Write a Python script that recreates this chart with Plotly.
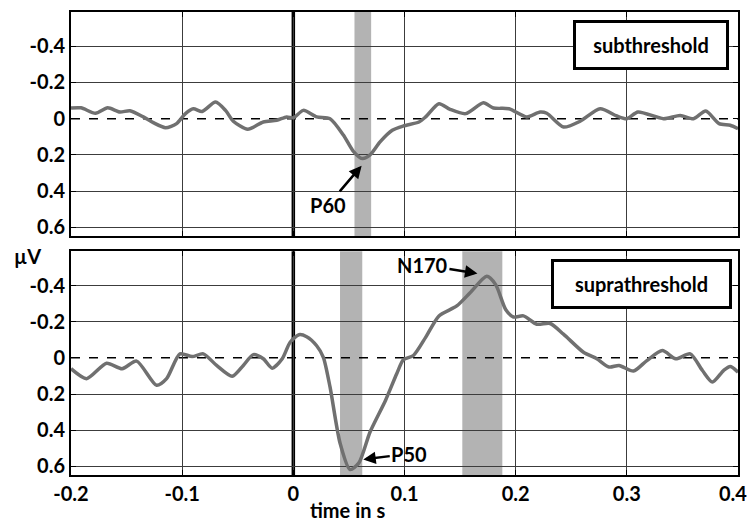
import plotly.graph_objects as go

# ---- data ----
time_sub = [-0.2, -0.191, -0.178, -0.167, -0.156, -0.147, -0.135, -0.126, -0.115, -0.105,
            -0.097, -0.09, -0.082, -0.07, -0.061, -0.054, -0.041, -0.027, -0.015, -0.006,
            0.0, 0.009, 0.021, 0.033, 0.045, 0.054, 0.062, 0.069, 0.078, 0.089, 0.099,
            0.113, 0.119, 0.131, 0.141, 0.155, 0.171, 0.18, 0.194, 0.21, 0.222, 0.228,
            0.243, 0.258, 0.276, 0.291, 0.3, 0.31, 0.333, 0.348, 0.36, 0.371, 0.383, 0.393, 0.4]
amp_sub = [-0.059, -0.06, -0.03, -0.06, -0.037, -0.044, -0.01, 0.022, 0.05, 0.027,
           -0.028, -0.055, -0.04, -0.092, -0.046, 0.014, 0.058, 0.018, 0.009, -0.01,
           -0.005, -0.046, -0.01, 0.0, 0.09, 0.18, 0.22, 0.2, 0.128, 0.064, 0.04,
           0.018, -0.01, -0.083, -0.052, -0.028, -0.088, -0.059, -0.055, -0.01, -0.037, -0.03,
           0.046, 0.014, -0.055, -0.015, 0.0, -0.037, 0.0, -0.018, 0.0, -0.042, 0.027, 0.036, 0.055]

time_supra = [-0.2, -0.186, -0.168, -0.154, -0.141, -0.123, -0.114, -0.102, -0.091, -0.081,
              -0.069, -0.055, -0.045, -0.036, -0.027, -0.019, -0.01, -0.003, 0.005, 0.012,
              0.021, 0.027, 0.033, 0.042, 0.051, 0.059, 0.069, 0.083, 0.093, 0.099, 0.108,
              0.119, 0.131, 0.147, 0.159, 0.174, 0.182, 0.191, 0.198, 0.207, 0.219, 0.231,
              0.243, 0.261, 0.273, 0.284, 0.293, 0.306, 0.318, 0.332, 0.344, 0.357, 0.368,
              0.377, 0.387, 0.393, 0.4]
amp_supra = [0.06, 0.115, 0.03, 0.06, 0.018, 0.152, 0.115, -0.022, -0.007, -0.022,
             0.042, 0.102, 0.042, -0.018, 0.005, 0.057, 0.005, -0.085, -0.128, -0.117,
             -0.067, -0.003, 0.161, 0.471, 0.618, 0.581, 0.41, 0.234, 0.088, 0.011, -0.013,
             -0.113, -0.232, -0.287, -0.36, -0.451, -0.405, -0.268, -0.226, -0.232, -0.186, -0.19,
             -0.131, -0.031, 0.005, 0.051, 0.042, 0.073, 0.015, -0.04, 0.005, -0.022, 0.07,
             0.134, 0.07, 0.048, 0.079]

win_sub = [(0.055, 0.070)]
win_supra = [(0.042, 0.062), (0.152, 0.188)]

x_ticks = [-0.2, -0.1, 0, 0.1, 0.2, 0.3, 0.4]
x_ticktext = ["-0.2", "-0.1", "0", "0.1", "0.2", "0.3", ""]   # last label drawn as annotation (kept inside page)
x_last_label = "0.4"
y_ticks = [-0.4, -0.2, 0, 0.2, 0.4, 0.6]
y_ticktext = ["-0.4", "-0.2", "0", "0.2", "0.4", "0.6"]
y_grid = [-0.4, -0.2, 0.2, 0.4, 0.6]   # zero is drawn dashed instead

FONT = "Lato"
LINE_C = "#707070"
SHADE_C = "#b3b3b3"
Y_RANGE = [0.648, -0.589]

fig = go.Figure()
fig.add_trace(go.Scatter(x=time_sub, y=amp_sub, mode="lines", xaxis="x", yaxis="y3",
                         line=dict(color=LINE_C, width=3.5, shape="spline", smoothing=0.7),
                         showlegend=False, hoverinfo="skip"))
fig.add_trace(go.Scatter(x=time_supra, y=amp_supra, mode="lines", xaxis="x2", yaxis="y4",
                         line=dict(color=LINE_C, width=3.5, shape="spline", smoothing=0.7),
                         showlegend=False, hoverinfo="skip"))

shapes = []
for (xr, yr, wins) in [("x", "y", win_sub), ("x2", "y2", win_supra)]:
    for a, b in wins:
        shapes.append(dict(type="rect", xref=xr, yref=f"{yr} domain", x0=a, x1=b, y0=0, y1=1,
                           fillcolor=SHADE_C, line=dict(width=0), layer="below"))
    shapes.append(dict(type="line", xref=f"{xr} domain", yref=yr, x0=0, x1=1, y0=0, y1=0,
                       line=dict(color="black", width=1.5, dash="dash"), layer="below"))
    shapes.append(dict(type="line", xref=xr, yref=f"{yr} domain", x0=0, x1=0, y0=0, y1=1,
                       line=dict(color="black", width=3.5), layer="below"))

tickfont = dict(family=FONT, size=20, color="black", weight="bold")
frame = dict(showline=True, linecolor="black", linewidth=2, mirror="ticks",
             ticks="inside", ticklen=5, tickcolor="black", zeroline=False, tickfont=tickfont)
gridax = dict(showline=False, ticks="", showticklabels=False, showgrid=True,
              gridcolor="#3c3c3c", gridwidth=1, zeroline=False, tickvals=y_grid, range=Y_RANGE)

fig.update_layout(
    width=753, height=523,
    margin=dict(l=71, r=15, t=10, b=48),
    paper_bgcolor="white", plot_bgcolor="white",
    font=dict(family=FONT, color="black"),
    xaxis=dict(domain=[0, 1], anchor="y", range=[-0.2, 0.4], tickvals=x_ticks,
               ticktext=x_ticktext, showticklabels=False, showgrid=True,
               gridcolor="#3c3c3c", gridwidth=1, **frame),
    yaxis=dict(domain=[0.516, 1], anchor="x", range=Y_RANGE, tickvals=y_ticks,
               ticktext=y_ticktext, showgrid=False, **frame),
    yaxis3=dict(overlaying="y", anchor="x", side="left", **gridax),
    xaxis2=dict(domain=[0, 1], anchor="y2", range=[-0.2, 0.4], tickvals=x_ticks,
                ticktext=x_ticktext, showgrid=True, gridcolor="#3c3c3c", gridwidth=1, **frame),
    yaxis2=dict(domain=[0, 0.483], anchor="x2", range=Y_RANGE, tickvals=y_ticks,
                ticktext=y_ticktext, showgrid=False, **frame),
    yaxis4=dict(overlaying="y2", anchor="x2", side="left", **gridax),
    shapes=shapes,
)

labfont = dict(family=FONT, size=20, color="black", weight="bold")
arrow = dict(showarrow=True, arrowhead=2, arrowsize=1, arrowwidth=2.5, arrowcolor="black",
             standoff=1, font=labfont)
ann = [
    dict(text="subthreshold", xref="x", yref="y", x=0.3213, y=-0.406, showarrow=False,
         xanchor="center", yanchor="middle",
         bordercolor="black", borderwidth=3, bgcolor="white", width=148, height=42,
         borderpad=1, font=labfont),
    dict(text="suprathreshold", xref="x2", yref="y2", x=0.313, y=-0.407, showarrow=False,
         xanchor="center", yanchor="middle",
         bordercolor="black", borderwidth=3, bgcolor="white", width=173, height=42,
         borderpad=1, font=labfont),
    dict(text="P60", xref="x", yref="y", x=0.062, y=0.255, ax=-34, ay=40, **arrow),
    dict(text="P50", xref="x2", yref="y2", x=0.062, y=0.563, ax=47, ay=-6, **arrow),
    dict(text="N170", xref="x2", yref="y2", x=0.1665, y=-0.466, ax=-56, ay=-9, **arrow),
    dict(text="µV", xref="paper", yref="paper", x=-0.0645, y=0.4726, xanchor="center",
         yanchor="middle", showarrow=False, font=labfont),
    dict(text="time in s", xref="paper", yref="paper", x=0.4145, y=-0.0765, xanchor="center",
         yanchor="middle", showarrow=False, font=labfont),
    dict(text=x_last_label, xref="paper", yref="paper", x=1.016, xanchor="right",
         y=-0.0387, yanchor="middle", showarrow=False, font=labfont),
]
fig.update_layout(annotations=ann)

fig.write_html("out.html", config={"displayModeBar": False},
               post_script="document.body.style.margin='0px';document.body.style.overflow='hidden';")
